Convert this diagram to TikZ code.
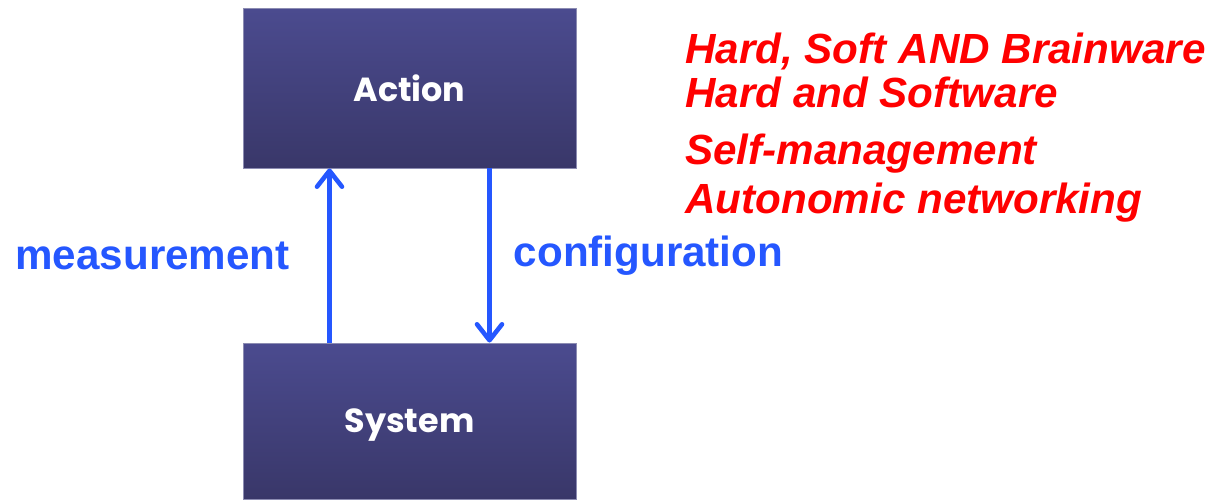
\documentclass[tikz,border=0pt]{standalone}
\usepackage{fontspec}
\setmainfont{Liberation Sans}
\newfontfamily\boxfont{Poppins}
\usetikzlibrary{arrows.meta, positioning, calc}
\definecolor{boxtop}{RGB}{75,75,143}
\definecolor{boxbot}{RGB}{57,55,105}
\definecolor{boxedge}{RGB}{140,140,178}
\definecolor{arrowblue}{RGB}{37,87,255}
\tikzset{
	block/.style={rectangle, draw=boxedge, line width=0.5pt, top color=boxtop, bottom color=boxbot, minimum width=6.66cm, text depth=0pt, text=white, font=\boxfont\bfseries\fontsize{19}{23}\selectfont},
	line/.style={draw=arrowblue, line width=2.6pt, -{Straight Barb[length=3.2mm, width=5mm, round]}},
	lbl/.style={text=arrowblue, inner sep=0pt, font=\bfseries\fontsize{24}{28}\selectfont},
	note/.style={text=red, inner sep=0pt, anchor=base west, font=\bfseries\itshape\fontsize{24}{28}\selectfont}
}

\begin{document}
\begin{tikzpicture}
	\useasboundingbox (0,0) rectangle (24.38,-9.98);
	
	% Boxes
	\node[block, minimum height=3.2cm] (act) at (8.19,-1.76) {Action};
	\node[block, minimum height=3.12cm] (sys) at (8.19,-8.42) {System};
	
	% Measurement goes up, configuration goes down
	\draw[line] ([xshift=-1.6cm]sys.north) -- ([xshift=-1.6cm]act.south) node[midway, lbl, left=0.75cm] {measurement};
	\draw[line] ([xshift=1.6cm]act.south) -- ([xshift=1.6cm]sys.north) node[midway, lbl, right=0.44cm] {configuration};
	
	% Red notes on the right
	\node[note] (hsb) at (13.7,-1.26) {Hard, Soft AND Brainware};
	\node[note] (hs) at (13.7,-2.14) {Hard and Software};
	\node[note] (sm) at (13.7,-3.28) {Self-management};
	\node[note] (an) at (13.7,-4.26) {Autonomic networking};
\end{tikzpicture}
\end{document}
